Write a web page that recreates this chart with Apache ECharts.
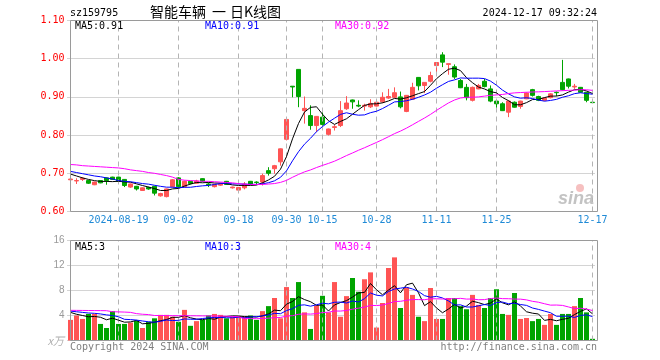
<!DOCTYPE html>
<html><head><meta charset="utf-8">
<script src="https://cdn.jsdelivr.net/npm/echarts/dist/echarts.min.js"></script>
<style>html,body{margin:0;padding:0;background:#fff}#c{width:660px;height:360px}</style>
</head><body><div id="c"></div>
<script>
const dates = ['2024-08-07','2024-08-08','2024-08-09','2024-08-12','2024-08-13','2024-08-14','2024-08-15','2024-08-16','2024-08-19','2024-08-20',
'2024-08-21','2024-08-22','2024-08-23','2024-08-26','2024-08-27','2024-08-28','2024-08-29','2024-08-30','2024-09-02','2024-09-03',
'2024-09-04','2024-09-05','2024-09-06','2024-09-09','2024-09-10','2024-09-11','2024-09-12','2024-09-13','2024-09-18','2024-09-19',
'2024-09-20','2024-09-23','2024-09-24','2024-09-25','2024-09-26','2024-09-27','2024-09-30','2024-10-08','2024-10-09','2024-10-10',
'2024-10-11','2024-10-14','2024-10-15','2024-10-16','2024-10-17','2024-10-18','2024-10-21','2024-10-22','2024-10-23','2024-10-24',
'2024-10-25','2024-10-28','2024-10-29','2024-10-30','2024-10-31','2024-11-01','2024-11-04','2024-11-05','2024-11-06','2024-11-07',
'2024-11-08','2024-11-11','2024-11-12','2024-11-13','2024-11-14','2024-11-15','2024-11-18','2024-11-19','2024-11-20','2024-11-21',
'2024-11-22','2024-11-25','2024-11-26','2024-11-27','2024-11-28','2024-11-29','2024-12-02','2024-12-03','2024-12-04','2024-12-05',
'2024-12-06','2024-12-09','2024-12-10','2024-12-11','2024-12-12','2024-12-13','2024-12-16','2024-12-17'];
const opens = [0.683,0.680,0.684,0.681,0.670,0.681,0.688,0.690,0.690,0.684,
0.664,0.666,0.655,0.663,0.666,0.641,0.639,0.665,0.688,0.665,
0.679,0.674,0.686,0.672,0.665,0.669,0.679,0.662,0.656,0.662,
0.679,0.677,0.677,0.707,0.712,0.730,0.789,0.928,0.972,0.864,
0.851,0.825,0.847,0.802,0.820,0.825,0.869,0.892,0.878,0.876,
0.874,0.876,0.887,0.897,0.899,0.900,0.862,0.894,0.951,0.930,
0.941,0.982,1.010,0.985,0.979,0.943,0.925,0.891,0.921,0.941,
0.921,0.889,0.882,0.860,0.886,0.875,0.895,0.919,0.901,0.891,
0.898,0.912,0.938,0.947,0.926,0.925,0.912,0.886];
const closes = [0.685,0.681,0.687,0.674,0.677,0.675,0.681,0.684,0.679,0.668,
0.672,0.659,0.662,0.659,0.648,0.647,0.659,0.683,0.665,0.679,
0.673,0.680,0.679,0.670,0.671,0.672,0.671,0.664,0.663,0.672,
0.671,0.676,0.694,0.700,0.720,0.764,0.841,0.926,0.901,0.870,
0.825,0.849,0.828,0.816,0.822,0.864,0.884,0.887,0.876,0.878,
0.883,0.886,0.899,0.901,0.911,0.874,0.904,0.925,0.929,0.938,
0.956,0.990,0.991,0.987,0.952,0.924,0.898,0.925,0.930,0.927,
0.889,0.882,0.864,0.889,0.873,0.889,0.910,0.904,0.891,0.897,
0.908,0.911,0.919,0.928,0.928,0.912,0.891,0.885];
const lows = [0.679,0.672,0.680,0.672,0.669,0.674,0.670,0.683,0.678,0.664,
0.662,0.655,0.654,0.657,0.642,0.639,0.637,0.663,0.662,0.663,
0.671,0.672,0.677,0.664,0.663,0.667,0.670,0.660,0.655,0.658,
0.670,0.670,0.668,0.694,0.699,0.720,0.786,0.899,0.873,0.830,
0.814,0.808,0.821,0.799,0.812,0.821,0.866,0.869,0.873,0.864,
0.871,0.875,0.884,0.895,0.897,0.870,0.860,0.892,0.917,0.910,
0.938,0.960,0.978,0.958,0.947,0.923,0.891,0.888,0.920,0.925,
0.886,0.864,0.863,0.847,0.872,0.869,0.894,0.901,0.889,0.889,
0.896,0.902,0.917,0.922,0.921,0.911,0.886,0.885];
const highs = [0.690,0.687,0.690,0.682,0.678,0.682,0.689,0.691,0.691,0.685,
0.673,0.667,0.663,0.665,0.667,0.649,0.660,0.685,0.690,0.681,
0.680,0.683,0.687,0.676,0.672,0.673,0.680,0.665,0.664,0.677,
0.680,0.679,0.699,0.716,0.722,0.765,0.843,0.928,0.972,0.901,
0.878,0.850,0.860,0.817,0.827,0.889,0.902,0.893,0.891,0.882,
0.894,0.890,0.912,0.921,0.925,0.914,0.905,0.937,0.952,0.938,
0.966,0.990,1.017,0.987,0.985,0.947,0.934,0.927,0.934,0.947,
0.930,0.892,0.886,0.890,0.888,0.890,0.912,0.921,0.903,0.899,
0.910,0.914,0.997,0.948,0.934,0.926,0.913,0.886];
const volumes = [3.3,4.0,3.45,4.25,4.25,2.65,2.0,4.7,2.65,2.65,
2.87,3.2,2.0,3.0,3.55,4.1,4.1,3.8,3.0,4.9,
2.35,3.1,3.3,4.0,4.25,4.1,3.55,3.8,3.9,3.8,
4.0,3.3,4.7,5.5,6.8,3.55,8.55,6.8,9.35,4.5,
1.85,5.6,7.15,4.5,9.35,3.8,7.1,10.0,7.8,9.8,
10.9,2.07,6.0,11.6,13.3,5.2,8.5,7.3,3.8,3.1,
8.4,3.45,3.45,6.8,6.8,5.5,5.0,7.3,5.7,5.2,
6.8,8.2,4.25,4.1,7.6,3.45,3.6,3.1,3.45,2.5,
4.25,2.5,4.25,4.25,5.5,6.8,4.5,0.27];
const ma5Head = [0.698,0.693,0.688,0.684];
const ma10Head = [0.705,0.702,0.699,0.696,0.693,0.691,0.688,0.685,0.681];
const ma30Head = [0.723,0.722,0.720,0.719,0.718,0.717,0.716,0.715,0.714,0.712,0.709,0.707,0.705,0.702,0.700,0.697,0.694,0.690,0.684,0.682,0.681,0.680,0.679,0.679,0.678,0.677,0.676,0.675,0.673];
const vma5Head = [4.5,4.2,4.0,3.8];
const vma10Head = [4.7,4.6,4.5,4.4,4.35,4.25,4.1,4.0,3.8];
const vma30Head = [4.83,4.82,4.81,4.80,4.79,4.78,4.77,4.6,4.58,4.55,4.5,4.3,4.2,4.15,4.0,4.0,3.98,3.98,3.97,3.97,3.96,3.95,3.94,3.93,3.92,3.9,3.88,3.85,3.8];
const labelDates = ['2024-08-19','2024-09-02','2024-09-18','2024-09-30','2024-10-15','2024-10-28','2024-11-11','2024-11-25','2024-12-17'];
const priceTicks = {min:0.6, max:1.1, step:0.1};
const volTicks = {min:0, max:16, step:4};

function movingAvg(src, n, head){
  return src.map((_, i) => {
    if (i < head.length) return head[i];
    let s = 0; for (let k = i - n + 1; k <= i; k++) s += src[k];
    return +(s / n).toFixed(4);
  });
}

const RED = '#ff5454', GREEN = '#00a400';
const MONO = '"DejaVu Sans Mono", "Liberation Mono", monospace';
const CJK = '14px "Noto Sans CJK SC", sans-serif';
const GL = 67.5, GW = 528;
const chart = echarts.init(document.getElementById('c'), null, {renderer:'canvas'});
const vline = {silent:true, symbol:['none','none'], label:{show:false}, emphasis:{disabled:true},
  lineStyle:{color:'#b4b4b4', type:[5,4], width:1}, data: labelDates.map(d => ({xAxis:d}))};
function txt(text, x, y, fill, font, align){
  return {type:'text', z:200, style:{text, x, y, fill, font, align: align||'left', verticalAlign:'middle'}};
}
const option = {
  animation:false,
  backgroundColor:'#fff',
  grid:[{left:GL, width:GW, top:20.5, height:191}, {left:GL, width:GW, top:240.5, height:100}],
  xAxis:[
    {type:'category', data:dates, gridIndex:0, boundaryGap:true, axisLine:{show:false}, axisTick:{show:false}, splitLine:{show:false},
     axisLabel:{interval:(i, v) => labelDates.includes(v), formatter:(v) => v === labelDates[0] ? v : v.slice(5),
       color:'#1f8ad6', fontFamily:MONO, fontSize:10, margin:4}},
    {type:'category', data:dates, gridIndex:1, boundaryGap:true, axisLine:{show:false}, axisTick:{show:false}, axisLabel:{show:false}, splitLine:{show:false}}
  ],
  yAxis:[
    {type:'value', gridIndex:0, min:priceTicks.min, max:priceTicks.max, interval:priceTicks.step, axisLine:{show:false}, axisTick:{show:false},
     axisLabel:{formatter:v => v.toFixed(2), color:'#ff0000', fontFamily:MONO, fontSize:10, margin:3},
     splitLine:{lineStyle:{type:[1,1], color:'#a8a8a8', width:1}}},
    {type:'value', gridIndex:1, min:volTicks.min, max:volTicks.max, interval:volTicks.step, axisLine:{show:false}, axisTick:{show:false},
     axisLabel:{formatter:v => v === 0 ? '' : String(v), color:'#999', fontFamily:'"Liberation Sans", Arial, sans-serif', fontSize:10, margin:3},
     splitLine:{lineStyle:{type:[1,1], color:'#a8a8a8', width:1}}}
  ],
  series:[
    {type:'candlestick', xAxisIndex:0, yAxisIndex:0, barWidth:5,
     data: dates.map((d, i) => [opens[i], closes[i], lows[i], highs[i]]),
     itemStyle:{color:RED, color0:GREEN, borderColor:RED, borderColor0:GREEN, borderWidth:1},
     emphasis:{disabled:true}, markLine: vline},
    {type:'line', xAxisIndex:0, yAxisIndex:0, data:movingAvg(closes, 5, ma5Head), showSymbol:false, symbol:'none', lineStyle:{color:'#000', width:1}, emphasis:{disabled:true}, z:5},
    {type:'line', xAxisIndex:0, yAxisIndex:0, data:movingAvg(closes, 10, ma10Head), showSymbol:false, symbol:'none', lineStyle:{color:'#0000ff', width:1}, emphasis:{disabled:true}, z:5},
    {type:'line', xAxisIndex:0, yAxisIndex:0, data:movingAvg(closes, 30, ma30Head), showSymbol:false, symbol:'none', lineStyle:{color:'#ff00ff', width:1}, emphasis:{disabled:true}, z:5},
    {type:'bar', xAxisIndex:1, yAxisIndex:1, barWidth:5,
     data: volumes.map((v, i) => ({value:v, itemStyle:{color: closes[i] >= opens[i] ? RED : GREEN}})),
     emphasis:{disabled:true}, markLine: vline},
    {type:'line', xAxisIndex:1, yAxisIndex:1, data:movingAvg(volumes, 5, vma5Head), showSymbol:false, symbol:'none', lineStyle:{color:'#000', width:1}, emphasis:{disabled:true}, z:5},
    {type:'line', xAxisIndex:1, yAxisIndex:1, data:movingAvg(volumes, 10, vma10Head), showSymbol:false, symbol:'none', lineStyle:{color:'#0000ff', width:1}, emphasis:{disabled:true}, z:5},
    {type:'line', xAxisIndex:1, yAxisIndex:1, data:movingAvg(volumes, 30, vma30Head), showSymbol:false, symbol:'none', lineStyle:{color:'#ff00ff', width:1}, emphasis:{disabled:true}, z:5}
  ],
  graphic:[
    {type:'rect', z:150, shape:{x:70.5, y:20.5, width:527, height:191}, style:{fill:null, stroke:'#9a9a9a', lineWidth:1}},
    {type:'rect', z:150, shape:{x:70.5, y:240.5, width:527, height:100}, style:{fill:null, stroke:'#9a9a9a', lineWidth:1}},
    txt('sz159795', 70, 13, '#000', '10px ' + MONO),
    txt('智能车辆', 150, 12, '#000', CJK),
    txt('一', 212, 12, '#000', CJK),
    txt('日K线图', 230, 12, '#000', CJK),
    txt('2024-12-17 09:32:24', 597, 13, '#000', '10px ' + MONO, 'right'),
    txt('MA5:0.91', 75, 26, '#000', '10px ' + MONO),
    txt('MA10:0.91', 205, 26, '#0000ff', '10px ' + MONO),
    txt('MA30:0.92', 335, 26, '#ff00ff', '10px ' + MONO),
    txt('MA5:3', 75, 247, '#000', '10px ' + MONO),
    txt('MA10:3', 205, 247, '#0000ff', '10px ' + MONO),
    txt('MA30:4', 335, 247, '#ff00ff', '10px ' + MONO),
    txt('x万', 64, 341, '#b0b0b0', 'italic 11px "Noto Sans CJK SC", sans-serif', 'right'),
    txt('Copyright 2024 SINA.COM', 70, 347, '#808080', '10px ' + MONO),
    txt('http://finance.sina.com.cn', 597, 347, '#808080', '10px ' + MONO, 'right'),
    {type:'circle', z:190, shape:{cx:580, cy:188, r:4}, style:{fill:'rgba(240,150,150,0.6)'}},
    txt('sina', 594, 199, 'rgba(185,185,185,0.85)', 'italic bold 18px "Liberation Sans", sans-serif', 'right')
  ]
};
chart.setOption(option);
</script>
</body></html>
